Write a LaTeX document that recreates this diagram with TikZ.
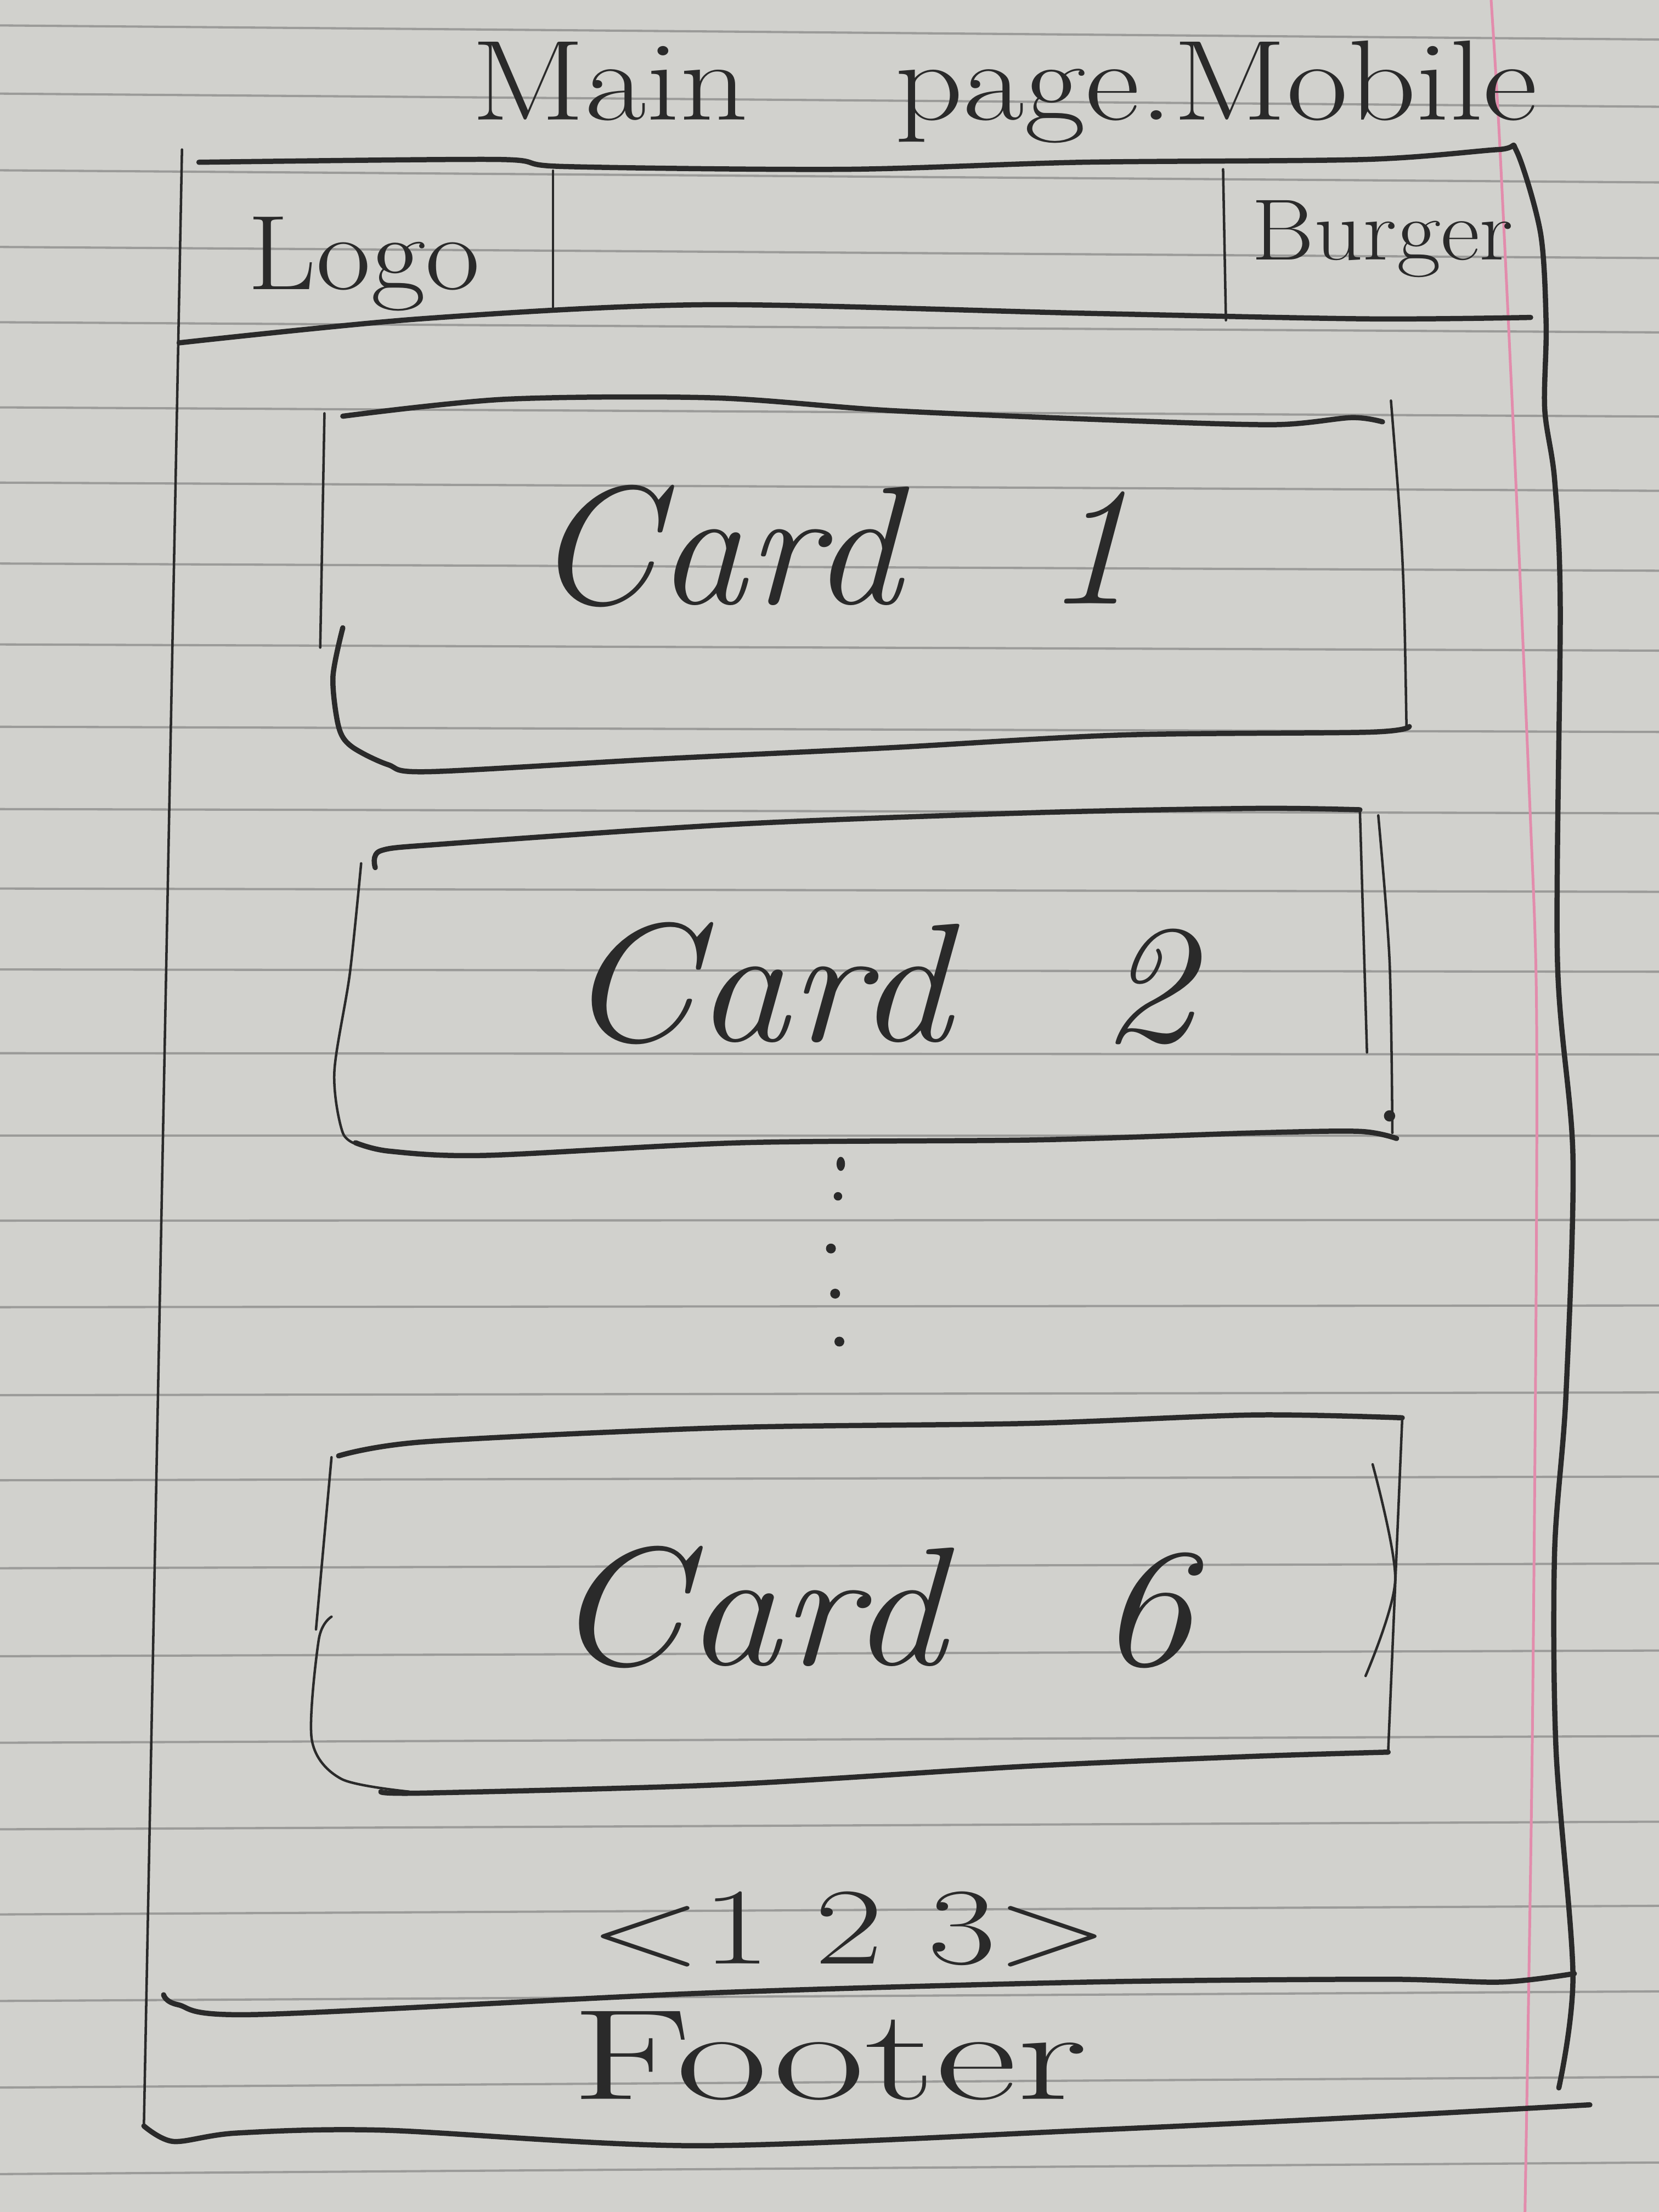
\documentclass[tikz,border=0pt]{standalone}
\usepackage{fontspec}
\definecolor{paper}{RGB}{209,209,205}
\definecolor{rulegray}{RGB}{155,155,153}
\definecolor{inkgray}{RGB}{42,42,42}
\definecolor{margin}{RGB}{226,140,172}
\newcommand{\wide}[2]{\scalebox{#1}[1]{#2}}
\begin{document}
\begin{tikzpicture}[x=0.01cm, y=-0.01cm,
		ink/.style={draw=inkgray, line width=1.05pt, line cap=round, line join=round},
		fine/.style={draw=inkgray, line width=0.5pt, line cap=round, line join=round},
		ruled/.style={draw=rulegray, line width=0.45pt},
		hand/.style={text=inkgray, inner sep=0pt, anchor=base},
		cardtext/.style={hand, font=\fontsize{34}{40}\selectfont\itshape}]
	\useasboundingbox (0,0) rectangle (1176,1568);
	\fill[paper] (0,0) rectangle (1176,1568);
	\foreach \y [count=\k from 0] in {23,71,125,179,232,292,345,402,459,517,575,631,688,747,805,865,926,988,1048,1110,1172,1233,1294,1354,1415,1476,1537}
		\draw[ruled] (0,\y-5+0.35*\k) -- (1176,\y+5-0.35*\k);
	\draw[margin, line width=0.55pt] plot[smooth] coordinates {(1057,0) (1063,100) (1074,330) (1084,560) (1089,700) (1089,900) (1086,1250) (1081,1568)};

	\node[hand, font=\fontsize{23}{28}\selectfont] (title) at (712,85) {\wide{1.17}{Main\hspace{1.1em}page.Mobile}};

	\draw[fine] (129,106) -- (102,1507);
	\draw[ink] plot[smooth, tension=0.5] coordinates {(141,115) (352,113) (399,118) (599,120) (767,115) (968,113) (1062,106) (1075,107) (1092,165) (1096,230) (1095,290) (1102,340) (1106,430) (1104,680) (1115,820) (1110,990) (1102,1100) (1103,1240) (1115,1400) (1105,1480)};
	\draw[ink] plot[smooth, tension=0.5] coordinates {(127,243) (298,226) (499,216) (767,222) (968,226) (1085,225)};
	\draw[fine] (392,121) -- (392,220);
	\draw[fine] (867,120) -- (869,227);
	\node[hand, font=\fontsize{21.4}{26}\selectfont] (logo) at (258,205) {\wide{1.12}{Logo}};
	\node[hand, font=\fontsize{17.5}{21}\selectfont] (burger) at (980,184) {\wide{1.1}{Burger}};

	\draw[ink] plot[smooth, tension=0.5] coordinates {(243,295) (358,283) (506,282) (631,291) (795,298) (904,301) (958,296) (980,299)};
	\draw[fine] (986,284) .. controls (995,396) .. (997,515);
	\draw[fine] (230,293) -- (227,459);
	\draw[ink] plot[smooth, tension=0.5] coordinates {(243,445) (236,480) (240,515) (249,529) (275,542) (304,547) (467,538) (631,530) (795,521) (970,519) (999,515)};
	\node[cardtext] (card1) at (590,428) {\wide{1.06}{Card\hspace{.8em}1}};

	\draw[ink] plot[smooth, tension=0.5] coordinates {(266,615) (270,603) (318,598) (526,584) (735,576) (891,573) (964,574)};
	\draw[fine] plot[smooth, tension=0.5] coordinates {(256,612) (248,690) (237,760) (243,803) (256,812)};
	\draw[ink] plot[smooth, tension=0.5] coordinates {(252,810) (276,816) (344,819) (526,810) (735,808) (891,803) (964,802) (990,807)};
	\draw[fine] (964,575) -- (969,746);
	\draw[fine] plot[smooth] coordinates {(977,578) (985,681) (987,803)};
	\fill[inkgray] (985,791) circle (4);
	\node[cardtext] (card2) at (623,738) {\wide{1.11}{Card\hspace{.8em}2}};

	\fill[inkgray] (596,825) ellipse (3 and 5);
	\fill[inkgray] (594,848) circle (3);
	\fill[inkgray] (589,885) circle (3.5);
	\fill[inkgray] (592,917) circle (3.5);
	\fill[inkgray] (595,951) circle (3.5);

	\draw[ink] plot[smooth, tension=0.5] coordinates {(240,1032) (301,1022) (514,1012) (728,1009) (888,1003) (994,1005)};
	\draw[fine] (994,1005) -- (984,1242);
	\draw[fine] (235,1033) -- (224,1155);
	\draw[fine] plot[smooth, tension=0.5] coordinates {(235,1146) (226,1162) (221,1233) (242,1261) (290,1270)};
	\draw[ink] plot[smooth, tension=0.5] coordinates {(270,1270) (301,1271) (514,1265) (728,1252) (888,1245) (984,1242)};
	\draw[fine] plot[smooth] coordinates {(973,1038) (989,1120) (968,1188)};
	\node[cardtext] (card6) at (618,1180) {\wide{1.13}{Card\hspace{.8em}6}};

	\node[hand, font=\fontsize{22}{26}\selectfont] (pages) at (602,1392) {\wide{1.36}{<1 2 3>}};
	\draw[ink] plot[smooth, tension=0.5] coordinates {(116,1414) (126,1421) (182,1428) (495,1413) (772,1405) (981,1403) (1064,1405) (1116,1399)};
	\node[hand, font=\fontsize{26}{31}\selectfont] (footer) at (588,1488) {\wide{1.55}{Footer}};
	\draw[ink] plot[smooth, tension=0.5] coordinates {(102,1507) (123,1518) (168,1512) (272,1510) (494,1521) (772,1510) (981,1500) (1127,1492)};
\end{tikzpicture}
\end{document}
